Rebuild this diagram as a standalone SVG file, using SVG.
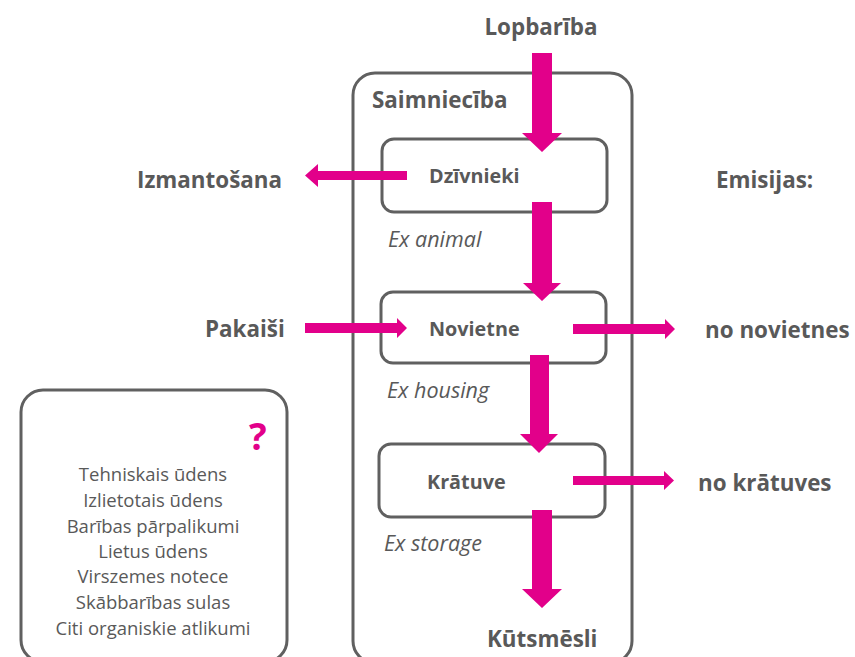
<svg xmlns="http://www.w3.org/2000/svg" width="855" height="657" viewBox="0 0 855 657">
<style>
.box{fill:none;stroke:#606060;stroke-width:3}
.arr{fill:#E2008A}
text{font-family:"Open Sans","Noto Sans",sans-serif;fill:#595959}
.b20{font-size:22.4px;font-weight:bold}
.b16{font-size:19.8px;font-weight:bold}
.it{font-size:21.5px;font-style:italic}
.li{font-size:18.5px;text-anchor:middle}
</style>
<rect width="855" height="657" fill="#fff"/>
<g id="saimnieciba"><rect class="box" x="353" y="73" width="279" height="590" rx="22"/><text class="b20" x="372" y="108">Saimniecība</text></g>
<g id="dzivnieki"><rect class="box" x="382" y="139" width="225" height="73" rx="12"/><text class="b16" x="429" y="183">Dzīvnieki</text></g>
<g id="novietne"><rect class="box" x="381" y="292" width="225" height="71" rx="12"/><text class="b16" x="429" y="336">Novietne</text></g>
<g id="kratuve"><rect class="box" x="379" y="444" width="226" height="73" rx="12"/><text class="b16" x="427" y="489">Krātuve</text></g>
<g id="other"><rect class="box" x="21" y="390" width="266" height="272" rx="22"/>
<text x="249" y="450" style="font-size:37px;font-weight:bold;fill:#E2008A">?</text>
<text class="li" x="153" y="481">Tehniskais ūdens</text>
<text class="li" x="153" y="507">Izlietotais ūdens</text>
<text class="li" x="153" y="533">Barības pārpalikumi</text>
<text class="li" x="153" y="558">Lietus ūdens</text>
<text class="li" x="153" y="583">Virszemes notece</text>
<text class="li" x="153" y="609">Skābbarības sulas</text>
<text class="li" x="153" y="635">Citi organiskie atlikumi</text>
</g>
<g id="labels">
<text class="b20" x="541" y="35" text-anchor="middle">Lopbarība</text>
<text class="b20" x="137" y="188">Izmantošana</text>
<text class="b20" x="716" y="188">Emisijas:</text>
<text class="b20" x="205" y="337">Pakaiši</text>
<text class="b20" x="705" y="338">no novietnes</text>
<text class="b20" x="698" y="491">no krātuves</text>
<text class="b20" x="487" y="647">Kūtsmēsli</text>
<text class="it" x="388" y="247">Ex animal</text>
<text class="it" x="387" y="398">Ex housing</text>
<text class="it" x="384" y="551">Ex storage</text>
</g>
<g id="connectors">
<polygon class="arr" points="532,53 552,53 552,133 562,133 542,152 522,133 532,133"/>
<polygon class="arr" points="532,202 552,202 552,283 561,283 542,301 523,283 532,283"/>
<polygon class="arr" points="530,355 549,355 549,434 558,434 539,453 520,434 530,434"/>
<polygon class="arr" points="532,510 552,510 552,589 562,589 542,608 522,589 532,589"/>
<polygon class="arr" points="407,171 407,180 318,180 318,187 305,175.5 318,164 318,171"/>
<polygon class="arr" points="305,323 305,333 397,333 397,338 407,328 397,318 397,323"/>
<polygon class="arr" points="573,324 573,334 665,334 665,339 675,329 665,319 665,324"/>
<polygon class="arr" points="573,476 573,485 664,485 664,490 674,480.5 664,471 664,476"/>
</g>
</svg>
